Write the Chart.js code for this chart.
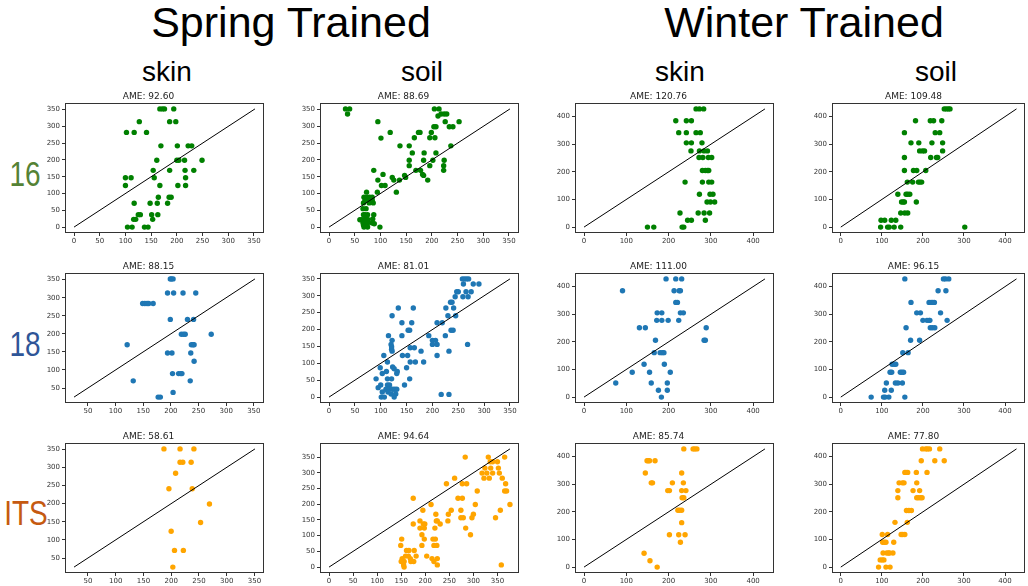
<!DOCTYPE html>
<html>
<head>
<meta charset="utf-8">
<script src="https://cdn.jsdelivr.net/npm/chart.js@4.4.0/dist/chart.umd.min.js"></script>
<style>
html,body{margin:0;padding:0;background:#fff;overflow:hidden}
body{width:1028px;height:586px;position:relative;font-family:'Liberation Sans',Arial,sans-serif}
.lbl{position:absolute;line-height:1;white-space:nowrap;transform:translateX(-50%);color:#000}
.big{font-size:43px}
.col{font-size:28px}
.row{font-size:35px;transform:translateX(-50%) scaleX(0.8)}
canvas{position:absolute}
</style>
</head>
<body>
<div class="lbl big" style="left:291px;top:1px">Spring Trained</div>
<div class="lbl big" style="left:804px;top:1px">Winter Trained</div>
<div class="lbl col" style="left:167px;top:58px">skin</div>
<div class="lbl col" style="left:422px;top:58px">soil</div>
<div class="lbl col" style="left:680px;top:58px">skin</div>
<div class="lbl col" style="left:936px;top:58px">soil</div>
<div class="lbl row" style="left:25px;top:156px;color:#548235">16</div>
<div class="lbl row" style="left:25px;top:326px;color:#2F5597">18</div>
<div class="lbl row" style="left:26px;top:495px;color:#C55A11">ITS</div>
<script>

/*=============================================
DATA
=============================================*/

const ameValues = ['92.60','88.69','120.76','109.48','88.15','81.01','111.00','96.15','58.61','94.64','85.74','77.80']

const ticks0to350 = [0,50,100,150,200,250,300,350]
const ticks50to350 = [50,100,150,200,250,300,350]
const ticks0to400 = [0,100,200,300,400]

// 16 - spring
const spring16SkinX = [167,172,176,194, 127,186,198, 102,117,141, 169,201,222,229, 161,200,204,215,249, 154,186,216,233, 100,111,156,217, 100,167,202,217, 164,185,189, 117,148,162,182, 125,129,151,163, 116,120,153, 104,113,137,144]
const spring16SkinY = [352,352,352,352, 314,314,314, 282,282,282, 242,242,242,242, 199,199,199,199,199, 169,169,169,169, 147,147,147,147, 124,124,124,124, 89,89,89, 71,71,71,71, 37,37,37,37, 23,23,23, 0,0,0,0]

const spring16SoilX = [32,40,36,95,119,101, 205,214,218,224,229,212,226,253, 204,208,234,241,174,177,199, 166,196,206,237,138,156, 162,185,208,156,184,202,224, 156,196,223,87,169,178,223, 105,182,123,149,147,184, 95,126,137,192,102,109, 94,131,73,68,74,79,84, 70,77,84,67,78,86,72,66, 67,70,75,72,60,64,68,72,76, 66,70,75,67,74,85,87,84,88,68,75,99]
const spring16SoilY = [352,352,337,314,282,265, 352,352,337,337,337,331,314,314, 299,299,299,299,282,282,282, 266,266,266,242,242,242, 221,221,221,199,199,199,199, 183,183,183,169,169,169,169, 157,157,148,148,154,154, 140,140,140,140,124,124, 104,104,104,89,89,89,89, 80,80,80,72,72,72,55,55, 37,37,37,28,22,22,22,22,22, 13,13,13,6,6,24,37,12,10,0,0,0]

// 16 - winter
const winter16SkinX = [265,273,283, 217,242,254, 224,242,265,275, 242,254,279, 253,273,284,292, 272,281,294,302, 280,287,292,295, 239,280,295,302, 273,298,305, 291,299,309, 227,270,284,297, 245,254,287, 150,165,232,236]
const winter16SkinY = [428,428,428, 385,385,385, 342,342,342,342, 305,305,305, 276,276,276,276, 252,252,252,252, 205,205,205,205, 163,163,163,163, 119,119,119, 91,91,91, 51,51,51,51, 25,25,25, 0,0,0,0]

const winter16SoilX = [252,257,262,266, 182,218,226,246, 155,230,241, 171,190,222,248, 192,199,204,248, 155,219,233,236, 155,177,185,207, 162,175,189,193,197, 139,159,163,168, 148,152,155,184, 146,156,163, 98,107,123,134, 97,114,118,130,146,302]
const winter16SoilY = [428,428,428,428, 385,385,385,385, 342,342,342, 305,305,305,305, 276,276,276,276, 252,252,252,252, 205,205,205,205, 163,163,163,163,163, 119,119,119,119, 91,91,91,91, 51,51,51, 25,25,25,25, 0,0,0,0,0,0]

// 18 - spring
const spring18SkinX = [199,201,204, 194,205,222,245, 149,153,157,160,168, 199,230,241, 219,223,226,273, 121,237,240,242, 194,202,236, 242, 203,214,218,220, 132,235, 204, 177,181]
const spring18SkinY = [352,352,352, 313,313,313,313, 284,284,284,284,284, 240,240,240, 199,199,199,199, 170,170,170,170, 147,147,147, 124, 90,90,90,90, 70,70, 38, 25,25]

const spring18SoilX = [258,262,266,270, 260,279,290, 247,250,265,275, 244,259,269, 235,238, 226,241,163,134, 230,245,122, 141,160,209,219, 153,156,236,240, 115,141,193,225, 122,200,206, 120,200,209,268, 121,157,165,121, 122,178,232, 106,142,152,209, 113,157,167,183, 99,123,126,150, 103,111,131,132, 91,113,121,156, 95,100,113,117,146, 110,116,123,127,131, 103,114,120,129, 101,107,126, 217,232]
const spring18SoilY = [350,350,350,350, 335,335,335, 312,312,312,312, 297,297,297, 281,281, 264,264,264,264, 241,241,241, 220,220,220,220, 198,198,198,198, 182,182,182,182, 168,168,168, 156,156,156,156, 149,146,146,142, 136,136,136, 123,123,123,123, 104,104,104,104, 87,89,84,87, 70,76,70,76, 54,54,54,54, 28,36,36,36,36, 23,23,23,23,23, 15,15,9,9, 0,0,0, 8,8]

// 18 - winter
const winter18SkinX = [194,217,231, 91,213,225,228, 217,221, 173,184,228,235, 172,184,199,224, 131,145,289, 169,284,287, 166,180,185,189, 142,190, 114,155,204, 75,159,197, 176,197, 183]
const winter18SkinY = [428,428,428, 385,385,385,385, 343,343, 305,305,305,305, 278,278,278,278, 251,251,251, 206,206,206, 161,161,161,161, 119,119, 90,90,90, 51,51,51, 25,25, 0]

const winter18SoilX = [156,250,255,263, 237,256, 171,215,220,224,228, 185,194,243, 200,210,215,217,259, 159,218,223,229, 170,192, 151,164, 125,130,134, 120,124,145,149,153, 111,133,139,150, 107,123, 74,104,108,117,156]
const winter18SoilY = [428,428,428,428, 385,385, 343,343,343,343,343, 305,305,305, 278,278,278,278,278, 251,251,251,251, 206,206, 161,161, 119,119,119, 90,90,90,90,90, 51,51,51,51, 25,25, 0,0,0,0,0]

// ITS - spring
const itsSpringSkinX = [187,216,241, 216,221,236, 208, 196,238, 269, 253, 200, 206,222, 203]
const itsSpringSkinY = [351,351,351, 314,314,314, 284, 241,241, 199, 148, 124, 71,71, 25]

const itsSpringSoilX = [283,331,365, 335,340,350, 324,336,352, 318,328,340,354, 261,322,333,360, 244,277,286,367, 308,365,369, 175,268,277, 212,304,376, 195,254,274,356, 222,248,300, 274,279,297,346, 189,223,225,247, 175,196,199,231, 189,198,220,284, 193,294, 151,198,216,221, 149,193,218,224, 161,166,177, 159,165,181,203, 152,169,214,225, 150,156,170,176,218, 155,225,358, 156]
const itsSpringSoilY = [350,350,350, 335,335,335, 315,315,315, 299,299,299,299, 283,283,283,283, 265,265,265,265, 242,242,242, 219,219,219, 199,199,199, 181,181,181,181, 168,168,168, 157,157,157,157, 147,147,147,147, 137,137,137,137, 124,124,124,124, 103,103, 89,89,89,89, 69,69,69,69, 53,53,53, 35,35,35,35, 27,27,27,27, 18,18,18,18,18, 7,7,7, 0]

// ITS - winter
const itsWinterSkinX = [236,258,262,267, 149,152,155,168, 145,231, 159,162,209,235, 198,202,231,241, 232,236, 222,226,231, 231, 202,224,239, 228, 142, 156, 173]
const itsWinterSkinY = [428,428,428,428, 385,385,385,385, 341,341, 305,305,305,305, 277,277,277,277, 251,251, 206,206,206, 161, 117,117,117, 90, 50, 23, 0]

const itsWinterSoilX = [199,207,211,216,241, 196,229,252, 156,159,163,184,210, 142,150,154,185, 139,176,192, 139,185,189,194,198, 160,166,172, 132,162, 101,114,147,151,156, 102,106,110,129, 103,112,116,119,127, 96,101,105, 92,110,120]
const itsWinterSoilY = [428,428,428,428,428, 385,385,385, 343,343,343,343,343, 305,305,305,305, 277,277,277, 251,251,251,251,251, 205,205,205, 162,162, 118,118,118,118,118, 90,90,90,90, 51,51,51,51,51, 26,26,26, 0,0,0]

/*=============================================
PANELS
=============================================*/

const green = '#008000'
const blue = '#1f77b4'
const orange = '#FFA500'

const panels = [
    {xs: spring16SkinX, ys: spring16SkinY, color: green, ticks: ticks0to350},
    {xs: spring16SoilX, ys: spring16SoilY, color: green, ticks: ticks0to350},
    {xs: winter16SkinX, ys: winter16SkinY, color: green, ticks: ticks0to400},
    {xs: winter16SoilX, ys: winter16SoilY, color: green, ticks: ticks0to400},
    {xs: spring18SkinX, ys: spring18SkinY, color: blue, ticks: ticks50to350},
    {xs: spring18SoilX, ys: spring18SoilY, color: blue, ticks: ticks0to350},
    {xs: winter18SkinX, ys: winter18SkinY, color: blue, ticks: ticks0to400},
    {xs: winter18SoilX, ys: winter18SoilY, color: blue, ticks: ticks0to400},
    {xs: itsSpringSkinX, ys: itsSpringSkinY, color: orange, ticks: ticks50to350},
    {xs: itsSpringSoilX, ys: itsSpringSoilY, color: orange, ticks: ticks0to350},
    {xs: itsWinterSkinX, ys: itsWinterSkinY, color: orange, ticks: ticks0to400},
    {xs: itsWinterSoilX, ys: itsWinterSoilY, color: orange, ticks: ticks0to400}
]

const colLefts = [65, 320, 575, 832]
const colWidths = [199, 199, 199, 195]
const rowTops = [103, 273, 443]
const plotH = 130
const yAxisW = 32
const xAxisH = 14
const titleH = 16

// matplotlib style box round the plot area
const frame = {
    id: 'frame',
    afterDraw: chart => {
        let a = chart.chartArea
        let ctx = chart.ctx
        ctx.save()
        ctx.strokeStyle = '#333'
        ctx.lineWidth = 1
        ctx.strokeRect(Math.round(a.left) + 0.5, Math.round(a.top) + 0.5, Math.round(a.right - a.left) - 1, Math.round(a.bottom - a.top) - 1)
        ctx.restore()
    }
}

const axisOpts = (lo, hi, tickList, isX) => {
    let pad = (hi - lo) * 0.05
    return {
        type: 'linear',
        min: lo - pad,
        max: hi + pad,
        afterBuildTicks: axis => { axis.ticks = tickList.map(v => ({value: v})) },
        afterFit: axis => {
            if (isX) axis.height = xAxisH
            else axis.width = yAxisW
        },
        ticks: {
            autoSkip: false,
            maxRotation: 0,
            padding: isX ? 1 : 2,
            color: '#333',
            font: {size: 7, family: 'DejaVu Sans'}
        },
        grid: {drawOnChartArea: false, drawTicks: true, tickLength: 3, color: '#333'},
        border: {display: false}
    }
}

const makePanel = (p, i)=>{

    let row = Math.floor(i / 4)
    let col = i % 4
    let padRight = col == 3 ? 1 : 6

    let canvas = document.createElement('canvas')
    let w = colWidths[col] + yAxisW + padRight
    let h = titleH + plotH + xAxisH
    canvas.width = w
    canvas.height = h
    canvas.style.width = w + 'px'
    canvas.style.height = h + 'px'
    canvas.style.left = (colLefts[col] - yAxisW) + 'px'
    canvas.style.top = (rowTops[row] - titleH) + 'px'
    document.body.appendChild(canvas)

    let points = p.xs.map((x, k) => ({x: x, y: p.ys[k]}))
    let lo = Math.min(...p.xs, ...p.ys)
    let hi = Math.max(...p.xs, ...p.ys)

    new Chart(canvas.getContext('2d'), {
        type: 'scatter',
        data: {
            datasets: [{
                data: [{x: lo, y: lo}, {x: hi, y: hi}],
                showLine: true,
                borderColor: '#000',
                borderWidth: 1,
                pointRadius: 0
            }, {
                data: points,
                backgroundColor: p.color,
                borderColor: p.color,
                borderWidth: 0,
                pointRadius: 2.7,
                pointHoverRadius: 2.7
            }]
        },
        options: {
            responsive: false,
            animation: false,
            devicePixelRatio: 1,
            layout: {padding: {left: 0, right: padRight, top: 0, bottom: 0}},
            plugins: {
                legend: {display: false},
                tooltip: {enabled: false},
                title: {
                    display: true,
                    text: 'AME: ' + ameValues[i],
                    color: '#222',
                    font: {size: 9, family: 'DejaVu Sans', weight: 'normal'},
                    padding: {top: 4, bottom: 1.2}
                }
            },
            scales: {
                x: axisOpts(lo, hi, p.ticks, true),
                y: axisOpts(lo, hi, p.ticks, false)
            }
        },
        plugins: [frame]
    })
}

panels.forEach(makePanel)

</script>
</body>
</html>
